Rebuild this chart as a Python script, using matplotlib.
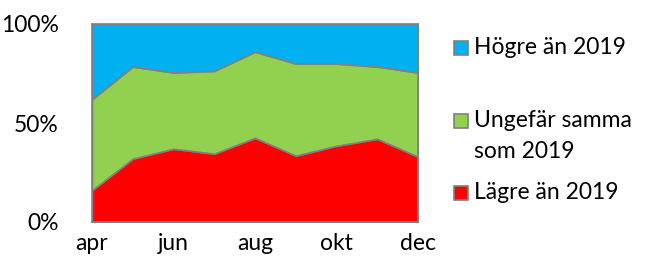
import matplotlib
matplotlib.use("Agg")
import matplotlib.pyplot as plt
from matplotlib.patches import Rectangle

months = ["apr", "maj", "jun", "jul", "aug", "sep", "okt", "nov", "dec"]
lower = [16, 32, 37, 34.5, 42.5, 33.5, 38.5, 42, 33]
same = [46, 46.5, 38.5, 41.8, 43.5, 46.5, 41.5, 36.5, 42.5]
higher = [38, 21.5, 24.5, 23.7, 14, 20, 20, 21.5, 24.5]
series_labels = ["Lägre än 2019", "Ungefär samma\nsom 2019", "Högre än 2019"]
yticks = [0, 50, 100]
ytick_labels = ["0%", "50%", "100%"]

colors = ["#FF0000", "#92D050", "#00B0F0"]
edge = "#808080"
font = "Lato"
fs = 16.5

fig = plt.figure(figsize=(6.49, 2.61), dpi=100)
ax = fig.add_axes([92/649, 39/261, 326/649, 198/261])
x = list(range(len(months)))
ax.stackplot(x, lower, same, higher, colors=colors, edgecolor=edge, linewidth=1.2)
ax.set_xlim(0, len(months) - 1)
ax.set_ylim(0, 100)
ax.set_xticks(x[::2])
ax.set_xticklabels(months[::2], fontfamily=font, fontsize=fs)
ax.set_yticks(yticks)
ax.set_yticklabels(ytick_labels, fontfamily=font, fontsize=fs)
ax.tick_params(length=0)
ax.tick_params(axis="x", pad=8)
ax.tick_params(axis="y", pad=24)
for s in ax.spines.values():
    s.set_color(edge)
    s.set_linewidth(1.2)

# legend (manual, to match layout)
W, H = 649, 261
entries = [(2, 47.5), (1, 120.5), (0, 192.5)]
for idx, yc in entries:
    sq = 14
    fig.patches.append(Rectangle((454/W, (H - yc - sq/2)/H), sq/W, sq/H,
                                 transform=fig.transFigure, facecolor=colors[idx],
                                 edgecolor=edge, linewidth=1.2))
    lines = series_labels[idx].split("\n")
    for k, line in enumerate(lines):
        fig.text(474/W, (H - yc - 31*k)/H, line, fontfamily=font, fontsize=fs,
                 va="center", ha="left")

fig.savefig("out.png", dpi=100)
